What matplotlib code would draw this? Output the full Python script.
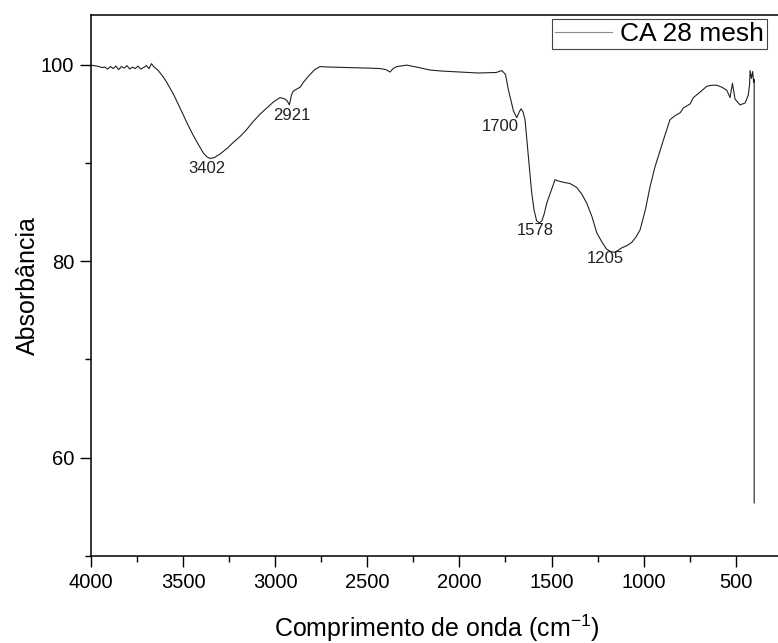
import matplotlib
matplotlib.use("Agg")
import matplotlib.pyplot as plt
from matplotlib.ticker import MultipleLocator

plt.rcParams["font.family"] = ["Liberation Sans", "DejaVu Sans"]
plt.rcParams["mathtext.fontset"] = "custom"
plt.rcParams["mathtext.rm"] = "Liberation Sans"
plt.rcParams["mathtext.it"] = "Liberation Sans:italic"

# FTIR spectrum (wavenumber in cm-1, absorbance)
wavenumber = [
    4000, 3985, 3970, 3955, 3940, 3925, 3910, 3895, 3880, 3865, 3850, 3835,
    3820, 3805, 3790, 3775, 3760, 3745, 3730, 3715, 3700, 3685, 3672, 3660,
    3635, 3610, 3589, 3550, 3517, 3480, 3445, 3415, 3390, 3370, 3354, 3330,
    3300, 3260, 3227, 3190, 3155, 3120, 3083, 3045, 3010, 2974, 2955, 2947,
    2935, 2923, 2912, 2902, 2885, 2865, 2847, 2830, 2811, 2785, 2757, 2700,
    2600, 2500, 2431, 2400, 2377, 2360, 2340, 2286, 2220, 2160, 2100, 2000,
    1900, 1800, 1770, 1750, 1735, 1720, 1707, 1689, 1675, 1666, 1655, 1644,
    1626, 1608, 1595, 1581, 1565, 1553, 1540, 1526, 1500, 1481, 1470, 1440,
    1400, 1363, 1335, 1309, 1280, 1255, 1225, 1200, 1175, 1155, 1140, 1119,
    1090, 1065, 1040, 1019, 990, 965, 940, 920, 890, 857, 830, 802,
    784, 748, 730, 694, 657, 630, 603, 575, 549, 531, 518, 504,
    477, 449, 432, 425, 422, 415, 408, 403, 400, 400,
]
absorbance = [
    99.95, 99.9, 99.85, 99.8, 99.7, 99.75, 99.55, 99.8, 99.6, 99.85, 99.5, 99.8,
    99.65, 99.9, 99.55, 99.75, 99.6, 99.85, 99.55, 99.7, 99.9, 99.6, 100.1, 99.8,
    99.4, 98.8, 98.2, 96.9, 95.6, 94.1, 92.8, 91.8, 91.0, 90.6, 90.45, 90.55,
    90.9, 91.5, 92.1, 92.7, 93.4, 94.2, 94.95, 95.6, 96.2, 96.65, 96.55, 96.5,
    96.3, 95.9, 96.9, 97.3, 97.5, 97.7, 98.2, 98.6, 99.0, 99.5, 99.8, 99.75,
    99.7, 99.65, 99.6, 99.5, 99.25, 99.6, 99.8, 99.95, 99.7, 99.45, 99.35, 99.25,
    99.15, 99.2, 99.4, 99.0, 97.5, 96.3, 95.3, 94.6, 95.2, 95.5, 95.2, 94.4,
    90.7, 87.0, 85.2, 84.1, 83.9, 84.1, 84.8, 85.9, 87.3, 88.3, 88.2, 88.05,
    87.9, 87.5, 86.8, 85.9, 84.5, 82.9, 81.9, 81.2, 80.95, 80.9, 81.1, 81.35,
    81.6, 81.9, 82.5, 83.2, 85.3, 87.6, 89.5, 90.7, 92.5, 94.4, 94.8, 95.1,
    95.6, 96.0, 96.65, 97.2, 97.8, 97.9, 97.9, 97.7, 97.4, 96.65, 98.1, 96.5,
    95.9, 96.1, 96.9, 98.0, 99.4, 98.6, 99.3, 98.2, 98.5, 55.4,
]

# peak labels: text, x, y
peak_labels = ["3402", "2921", "1700", "1578", "1205"]
peak_x = [3372, 2909, 1780, 1586, 1209]
peak_y = [89.4, 94.85, 93.7, 83.1, 80.3]

fig = plt.figure(figsize=(7.78, 6.43), dpi=100)
ax = fig.add_axes([0.1170, 0.1353, 0.8879, 0.8406])

ax.plot(wavenumber, absorbance, color="#222222", lw=0.8, label="CA 28 mesh")

for lab, px, py in zip(peak_labels, peak_x, peak_y):
    ax.text(px, py, lab, fontsize=12, ha="center", va="center", color="#222222")

ax.set_xlim(4000, 250)
ax.set_ylim(50, 105)
ax.xaxis.set_major_locator(MultipleLocator(500))
ax.xaxis.set_minor_locator(MultipleLocator(250))
ax.yaxis.set_major_locator(MultipleLocator(20))
ax.yaxis.set_minor_locator(MultipleLocator(10))
ax.tick_params(which="both", direction="out", width=1.0, labelsize=14.5,
               top=False, right=False)
ax.tick_params(which="major", length=8, pad=4)
ax.tick_params(which="minor", length=4.5)
for s in ax.spines.values():
    s.set_linewidth(1.1)

ax.set_xlabel("Comprimento de onda (cm$^{-1}$)", fontsize=18, labelpad=15)
ax.set_ylabel("Absorbância", fontsize=18, labelpad=1)

leg = ax.legend(loc="upper right", bbox_to_anchor=(767 / 778, 1 - 19 / 643),
                bbox_transform=fig.transFigure, borderaxespad=0, fontsize=19,
                fancybox=False, edgecolor="#444444", framealpha=1,
                borderpad=0.12, handlelength=2.15, handletextpad=0.3)
leg.get_frame().set_linewidth(0.8)
leg.get_lines()[0].set_color("#888888")

fig.savefig("out.png", dpi=100)
